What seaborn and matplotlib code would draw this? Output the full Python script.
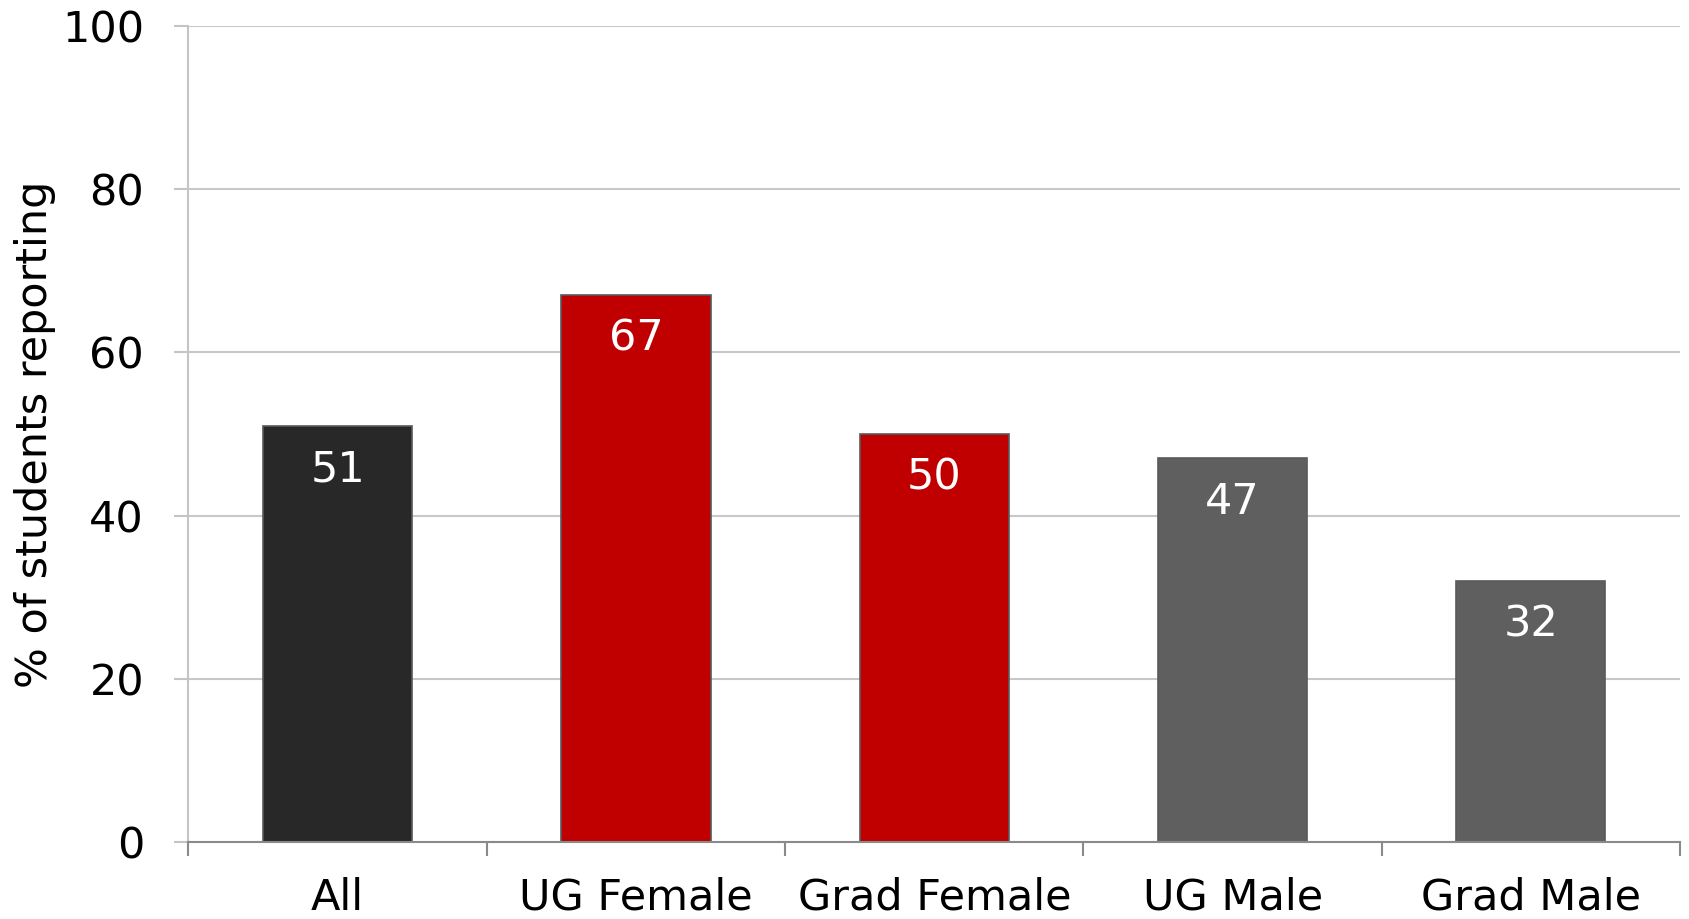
import numpy as np
import pandas as pd
import matplotlib
matplotlib.use("Agg")
import matplotlib.pyplot as plt
import seaborn as sns

# data
groups = ["All", "UG Female", "Grad Female", "UG Male", "Grad Male"]
pct_reporting = [51, 67, 50, 47, 32]
bar_colors = ["#282828", "#C00000", "#C00000", "#5F5F5F", "#5F5F5F"]

df = pd.DataFrame({"group": groups, "pct": pct_reporting})

sns.set_style("white")
plt.rcParams["font.family"] = ["DejaVu Sans"]
plt.rcParams["text.color"] = "black"
plt.rcParams["axes.labelcolor"] = "black"
plt.rcParams["xtick.color"] = "black"
plt.rcParams["ytick.color"] = "black"

fig = plt.figure(figsize=(16.89, 9.19), dpi=100)
ax = fig.add_axes([0.1116, 0.0838, 0.9947 - 0.1116, 0.9717 - 0.0838])

ax = sns.barplot(
    data=df, x="group", y="pct", hue="group",
    palette=dict(zip(groups, bar_colors)), legend=False, saturation=1,
    width=0.5, edgecolor="#5a5a5a", linewidth=1.2, ax=ax,
)

ax.set_xlim(-0.5, len(groups) - 0.5)
ax.set_ylim(0, 100)
ax.set_yticks(np.arange(0, 101, 20))

# grid + spines
ax.yaxis.grid(True, color="#c8c8c8", linewidth=1.5)
ax.xaxis.grid(False)
ax.set_axisbelow(True)
for s in ["top", "right"]:
    ax.spines[s].set_visible(False)
ax.spines["left"].set_color("#c4c4c4")
ax.spines["left"].set_linewidth(1.5)
ax.spines["bottom"].set_color("#8a8a8a")
ax.spines["bottom"].set_linewidth(1.5)

# ticks
ax.tick_params(axis="y", left=True, length=10, width=1.5, color="#c4c4c4",
               labelcolor="black", pad=22, labelsize=31)
ax.set_xticks(np.arange(-0.5, len(groups)), minor=True)
ax.tick_params(axis="x", which="minor", bottom=True, length=10, width=1.5, color="#8a8a8a")
ax.tick_params(axis="x", which="major", bottom=True, length=0, pad=25,
               labelcolor="black", labelsize=31)

ax.set_xlabel("")
ax.set_ylabel("% of students reporting", fontsize=31, labelpad=4, color="black")

# value labels inside bars
for i, v in enumerate(pct_reporting):
    ax.text(i, v - 5.3, str(v), ha="center", va="center", color="white", fontsize=31)

plt.savefig("out.png", dpi=100)
plt.close()
